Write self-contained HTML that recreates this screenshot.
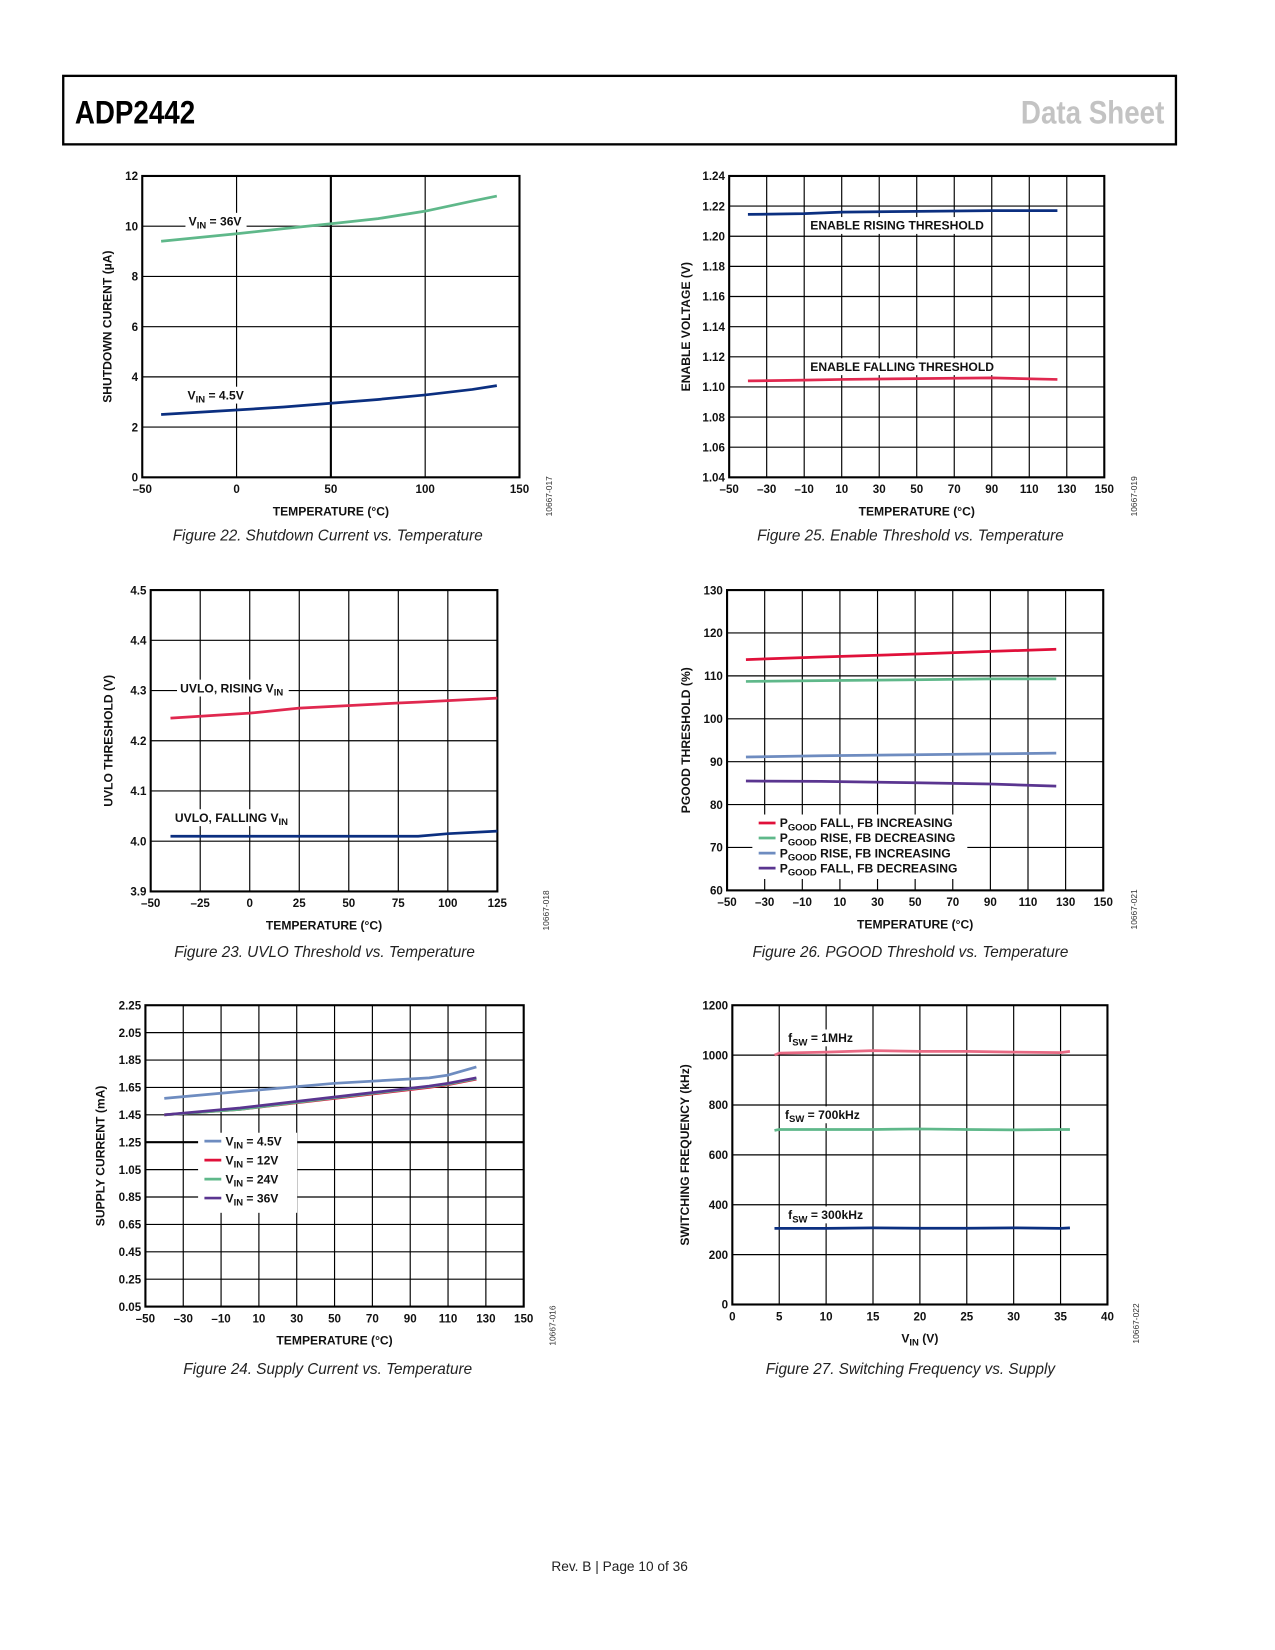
<!DOCTYPE html>
<html><head><meta charset="utf-8"><style>
html,body{margin:0;padding:0;background:#fff;width:1275px;height:1650px;overflow:hidden}
svg{display:block}
text{font-family:"Liberation Sans",sans-serif}
.t{font-size:11px;font-weight:bold;fill:#111}
.cap{font-size:14.5px;font-style:italic;fill:#222}
.lbl{font-size:11.5px;font-weight:bold;fill:#111}
</style></head><body>
<svg id="page" width="1275" height="1650" viewBox="0 0 1210 1565.9" xmlns="http://www.w3.org/2000/svg">
<rect x="60" y="72" width="1056" height="65" fill="none" stroke="#000" stroke-width="2.2"/>
<text x="71" y="117" style="font-size:31px;font-weight:bold;font-family:'Liberation Sans Narrow','Liberation Sans',sans-serif" transform="translate(71 0) scale(0.85 1) translate(-71 0)">ADP2442</text>
<text x="1105" y="117" text-anchor="end" style="font-size:31px;font-weight:bold;fill:#c3c3c3" transform="translate(1105 0) scale(0.85 1) translate(-1105 0)">Data Sheet</text>
<text x="588" y="1491" text-anchor="middle" style="font-size:13px;fill:#222">Rev. B | Page 10 of 36</text>
<g id="charts"></g>
</svg>
<script>
// ---- Figure 22 data
const f22X = [-40, 0, 25, 50, 75, 100, 125, 138];
const f22V36 = [9.4, 9.7, 9.9, 10.1, 10.3, 10.6, 11.0, 11.2];
const f22V45 = [2.5, 2.68, 2.8, 2.95, 3.1, 3.28, 3.5, 3.65];
const f22XTicks = [-50, 0, 50, 100, 150];
const f22YTicks = [0, 2, 4, 6, 8, 10, 12];
// ---- Figure 25 data
const f25X = [-40, -10, 10, 50, 90, 125];
const f25Rise = [1.2145, 1.215, 1.216, 1.2165, 1.217, 1.217];
const f25Fall = [1.104, 1.1045, 1.105, 1.1055, 1.106, 1.105];
const f25XTicks = [-50, -30, -10, 10, 30, 50, 70, 90, 110, 130, 150];
const f25YTicks = [1.04, 1.06, 1.08, 1.10, 1.12, 1.14, 1.16, 1.18, 1.20, 1.22, 1.24];
// ---- Figure 23 data
const f23X = [-40, 0, 25, 75, 85, 100, 125];
const f23Rise = [4.245, 4.255, 4.265, 4.275, 4.277, 4.28, 4.285];
const f23Fall = [4.01, 4.01, 4.01, 4.01, 4.01, 4.015, 4.02];
const f23XTicks = [-50, -25, 0, 25, 50, 75, 100, 125];
const f23YTicks = [3.9, 4.0, 4.1, 4.2, 4.3, 4.4, 4.5];
// ---- Figure 26 data
const f26X = [-40, 0, 50, 90, 125];
const f26FallInc = [113.8, 114.4, 115.1, 115.7, 116.2];
const f26RiseDec = [108.7, 108.9, 109.1, 109.3, 109.3];
const f26RiseInc = [91.1, 91.4, 91.6, 91.8, 92.0];
const f26FallDec = [85.5, 85.4, 85.1, 84.8, 84.3];
const f26XTicks = [-50, -30, -10, 10, 30, 50, 70, 90, 110, 130, 150];
const f26YTicks = [60, 70, 80, 90, 100, 110, 120, 130];
// ---- Figure 24 data
const f24X = [-40, 0, 50, 100, 110, 125];
const f24V45 = [1.57, 1.62, 1.68, 1.72, 1.74, 1.80];
const f24V12 = [1.45, 1.49, 1.57, 1.65, 1.67, 1.71];
const f24V24 = [1.45, 1.49, 1.575, 1.655, 1.675, 1.715];
const f24V36 = [1.45, 1.50, 1.58, 1.66, 1.68, 1.72];
const f24XTicks = [-50, -30, -10, 10, 30, 50, 70, 90, 110, 130, 150];
const f24YTicks = [0.05, 0.25, 0.45, 0.65, 0.85, 1.05, 1.25, 1.45, 1.65, 1.85, 2.05, 2.25];
// ---- Figure 27 data
const f27X = [4.5, 5, 10, 15, 20, 25, 30, 35, 36];
const f27F1M = [1000, 1008, 1012, 1018, 1015, 1015, 1012, 1010, 1015];
const f27F700 = [698, 702, 702, 702, 704, 702, 700, 702, 702];
const f27F300 = [305, 305, 305, 307, 306, 306, 307, 305, 307];
const f27XTicks = [0, 5, 10, 15, 20, 25, 30, 35, 40];
const f27YTicks = [0, 200, 400, 600, 800, 1000, 1200];

const NS = "http://www.w3.org/2000/svg";
const root = document.getElementById('charts');
function mk(tag, attrs, parent, txt){
  const e = document.createElementNS(NS, tag);
  for (const k in attrs) e.setAttribute(k, attrs[k]);
  if (txt !== undefined) e.textContent = txt;
  (parent || root).appendChild(e);
  return e;
}
function fmt(v, d){ const s = v.toFixed(d); return s.replace('-', '\u2013'); }

function chart(o){
  const g = mk('g', {});
  
  
  const xmin = o.xt[0], xmax = o.xt[o.xt.length-1];
  const ymin = o.yt[0], ymax = o.yt[o.yt.length-1];
  const sx = v => o.x0 + (v - xmin) / (xmax - xmin) * (o.x1 - o.x0);
  const sy = v => o.y1 - (v - ymin) / (ymax - ymin) * (o.y1 - o.y0);
  o.xt.forEach(t => {
    const gl = mk('line', {x1: sx(t), x2: sx(t), y1: o.y0, y2: o.y1, stroke: '#000', 'stroke-width': (o.heavyX === t) ? 2 : 1.1}, g);
    
    
    const tl = mk('text', {x: sx(t), y: o.y1 + 15, 'text-anchor': 'middle', class: 't'}, g, fmt(t, o.xd || 0));
    
    
  });
  o.yt.forEach(t => {
    const gl = mk('line', {x1: o.x0, x2: o.x1, y1: sy(t), y2: sy(t), stroke: '#000', 'stroke-width': (o.heavyY === t) ? 2 : 1.1}, g);
    
    
    const tl = mk('text', {x: o.x0 - 4, y: sy(t) + 4, 'text-anchor': 'end', class: 't'}, g, fmt(t, o.yd || 0));
    
    
  });
  const fr = mk('rect', {x: o.x0, y: o.y0, width: o.x1 - o.x0, height: o.y1 - o.y0, fill: 'none', stroke: '#000', 'stroke-width': 2}, g);
  
  
  // label backgrounds/labels
  (o.labels || []).forEach(l => {
    const bg = mk('rect', {x: l.x - 3, y: l.y - 12, width: l.w, height: 16, fill: '#fff'}, g);
    
    
    const t = mk('text', {x: l.x, y: l.y, class: 'lbl'}, g);
    
    
    t.innerHTML = l.html;
  });
  o.series.forEach(s => {
    const d = s.ys.map((v, i) => (i ? 'L' : 'M') + sx(o.xs[i]).toFixed(1) + ' ' + sy(v).toFixed(1)).join(' ');
    const p = mk('path', {d: d, fill: 'none', stroke: s.c, 'stroke-width': 2.6, 'stroke-linejoin': 'round'}, g);
    
    
  });
  if (o.legend) {
    const L = o.legend;
    const bg = mk('rect', {x: L.x - 6, y: L.y - 12, width: L.w, height: L.step * L.items.length + 4, fill: '#fff'}, g);
    
    
    L.items.forEach((it, i) => {
      const y = L.y + i * L.step;
      const ln = mk('line', {x1: L.x, x2: L.x + 16, y1: y - 4, y2: y - 4, stroke: it.c, 'stroke-width': 2.6}, g);
      
      
      const t = mk('text', {x: L.x + 20, y: y, class: 'lbl'}, g);
      
      
      t.innerHTML = it.html;
    });
  }
  const cx = (o.x0 + o.x1) / 2;
  const xt = mk('text', {x: cx, y: o.y1 + 36, 'text-anchor': 'middle', class: 'lbl'}, g);
  
  
  xt.innerHTML = o.xtitle;
  const cy = (o.y0 + o.y1) / 2;
  const yt = mk('text', {x: o.ytx, y: cy, 'text-anchor': 'middle', class: 'lbl', transform: 'rotate(-90 ' + o.ytx + ' ' + cy + ')'}, g, o.ytitle);
  
  
  const code = mk('text', {x: o.codeX, y: o.y1 + 36, 'text-anchor': 'middle', style: 'font-size:8px;fill:#333', transform: 'rotate(-90 ' + o.codeX + ' ' + (o.y1 + 18) + ')'}, g, o.code);
  code.setAttribute('x', o.codeX); code.setAttribute('y', o.y1 + 21);
  
  
  const cap = mk('text', {x: o.capX, y: o.capY, 'text-anchor': 'middle', class: 'cap'}, g, o.caption);
  
  
}
const SUB = s => '<tspan>V</tspan><tspan dy="3" style="font-size:9px">IN</tspan><tspan dy="-3">' + s + '</tspan>';
const PG = s => '<tspan>P</tspan><tspan dy="3" style="font-size:9px">GOOD</tspan><tspan dy="-3"> ' + s + '</tspan>';
const FS = s => '<tspan>f</tspan><tspan dy="3" style="font-size:9px">SW</tspan><tspan dy="-3">' + s + '</tspan>';

chart({name:'figure-22-chart', x0:135, x1:493, y0:167, y1:453, xt:f22XTicks, yt:f22YTicks, heavyX:50,
  xs:f22X, series:[{name:'series-vin-36v', ys:f22V36, c:'#5fb88a'},{name:'series-vin-4p5v', ys:f22V45, c:'#0b2f80'}],
  labels:[{x:179, y:214, w:58, name:'label-vin-36v', html:SUB(' = 36V')},{x:178, y:379, w:60, name:'label-vin-4p5v', html:SUB(' = 4.5V')}],
  xtitle:'TEMPERATURE (°C)', ytitle:'SHUTDOWN CURENT (µA)', ytx:106, code:'10667-017', codeX:521,
  caption:'Figure 22. Shutdown Current vs. Temperature', capX:311, capY:513});

chart({name:'figure-25-chart', x0:692, x1:1048, y0:167, y1:453, xt:f25XTicks, yt:f25YTicks, yd:2,
  xs:f25X, series:[{name:'series-enable-rising', ys:f25Rise, c:'#0b2f80'},{name:'series-enable-falling', ys:f25Fall, c:'#e0284f'}],
  labels:[{x:769, y:218, w:172, name:'label-enable-rising', html:'ENABLE RISING THRESHOLD'},{x:769, y:352, w:182, name:'label-enable-falling', html:'ENABLE FALLING THRESHOLD'}],
  xtitle:'TEMPERATURE (°C)', ytitle:'ENABLE VOLTAGE (V)', ytx:655, code:'10667-019', codeX:1076,
  caption:'Figure 25. Enable Threshold vs. Temperature', capX:864, capY:513});

chart({name:'figure-23-chart', x0:143, x1:472, y0:560, y1:846, xt:f23XTicks, yt:f23YTicks, yd:1,
  xs:f23X, series:[{name:'series-uvlo-rising', ys:f23Rise, c:'#e0284f'},{name:'series-uvlo-falling', ys:f23Fall, c:'#0b2f80'}],
  labels:[{x:171, y:657, w:106, name:'label-uvlo-rising', html:'UVLO, RISING '+SUB('')},{x:166, y:780, w:116, name:'label-uvlo-falling', html:'UVLO, FALLING '+SUB('')}],
  xtitle:'TEMPERATURE (°C)', ytitle:'UVLO THRESHOLD (V)', ytx:107, code:'10667-018', codeX:518,
  caption:'Figure 23. UVLO Threshold vs. Temperature', capX:308, capY:908});

chart({name:'figure-26-chart', x0:690, x1:1047, y0:560, y1:845, xt:f26XTicks, yt:f26YTicks,
  xs:f26X, series:[{name:'series-pgood-fall-fb-inc', ys:f26FallInc, c:'#e0103a'},{name:'series-pgood-rise-fb-dec', ys:f26RiseDec, c:'#5fb88a'},{name:'series-pgood-rise-fb-inc', ys:f26RiseInc, c:'#6e8cc0'},{name:'series-pgood-fall-fb-dec', ys:f26FallDec, c:'#5a3590'}],
  legend:{x:720, y:785, step:14.3, w:204, items:[{c:'#e0103a', html:PG('FALL, FB INCREASING')},{c:'#5fb88a', html:PG('RISE, FB DECREASING')},{c:'#6e8cc0', html:PG('RISE, FB INCREASING')},{c:'#5a3590', html:PG('FALL, FB DECREASING')}]},
  xtitle:'TEMPERATURE (°C)', ytitle:'PGOOD THRESHOLD (%)', ytx:655, code:'10667-021', codeX:1076,
  caption:'Figure 26. PGOOD Threshold vs. Temperature', capX:864, capY:908});

chart({name:'figure-24-chart', x0:138, x1:497, y0:954, y1:1240, xt:f24XTicks, yt:f24YTicks, yd:2, heavyY:1.25,
  xs:f24X, series:[{name:'series-vin-4p5v', ys:f24V45, c:'#6e8cc0'},{name:'series-vin-12v', ys:f24V12, c:'#e0103a'},{name:'series-vin-24v', ys:f24V24, c:'#5fb88a'},{name:'series-vin-36v', ys:f24V36, c:'#5a3590'}],
  legend:{x:194, y:1087, step:18, w:94, items:[{c:'#6e8cc0', html:SUB(' = 4.5V')},{c:'#e0103a', html:SUB(' = 12V')},{c:'#5fb88a', html:SUB(' = 24V')},{c:'#5a3590', html:SUB(' = 36V')}]},
  xtitle:'TEMPERATURE (°C)', ytitle:'SUPPLY CURRENT (mA)', ytx:99, code:'10667-016', codeX:524,
  caption:'Figure 24. Supply Current vs. Temperature', capX:311, capY:1304});

chart({name:'figure-27-chart', x0:695, x1:1051, y0:954, y1:1238, xt:f27XTicks, yt:f27YTicks,
  xs:f27X, series:[{name:'series-fsw-1mhz', ys:f27F1M, c:'#e86a84'},{name:'series-fsw-700khz', ys:f27F700, c:'#5fb88a'},{name:'series-fsw-300khz', ys:f27F300, c:'#0b2f80'}],
  labels:[{x:748, y:989, w:70, name:'label-fsw-1mhz', html:FS(' = 1MHz')},{x:745, y:1062, w:80, name:'label-fsw-700khz', html:FS(' = 700kHz')},{x:748, y:1157, w:80, name:'label-fsw-300khz', html:FS(' = 300kHz')}],
  xtitle:SUB(' (V)'), ytitle:'SWITCHING FREQUENCY (kHz)', ytx:654, code:'10667-022', codeX:1078,
  caption:'Figure 27. Switching Frequency vs. Supply', capX:864, capY:1304});
</script>
</body></html>
